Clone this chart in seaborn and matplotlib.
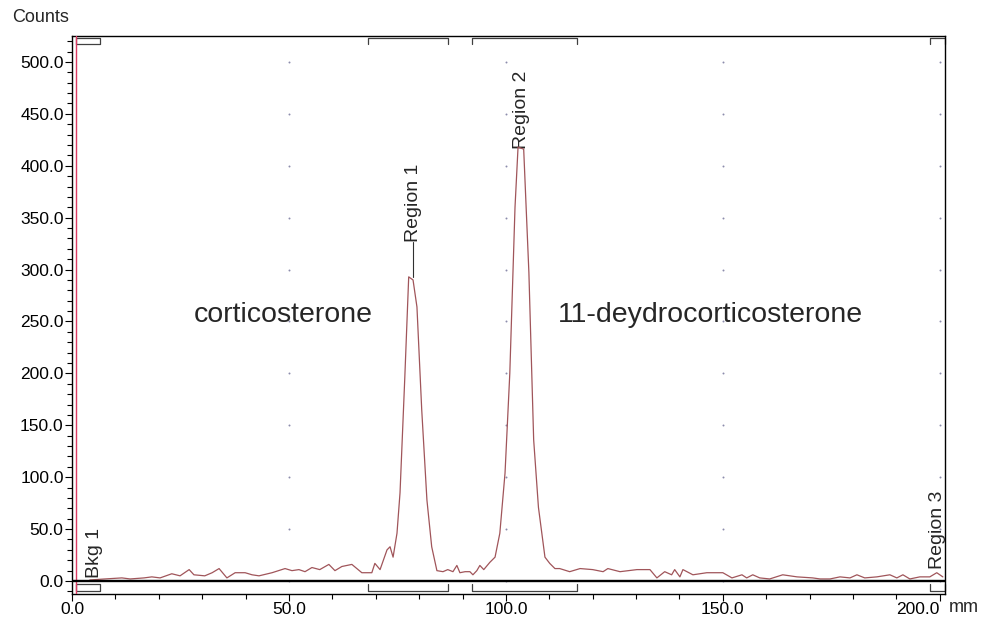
import numpy as np
import pandas as pd
import matplotlib
matplotlib.use("Agg")
import matplotlib.pyplot as plt
import seaborn as sns
from matplotlib.ticker import MultipleLocator, FormatStrFormatter

# ---- data ----
position_mm = [4.1, 7.6, 11.5, 13.4, 16.6, 18.4, 20.3, 23.0, 24.9, 27.0, 28.1, 30.6, 32.3, 33.9,
               35.7, 37.6, 39.9, 41.5, 43.1, 46.1, 49.1, 50.7, 52.3, 53.7, 55.3, 57.1, 59.2,
               60.6, 62.2, 64.5, 66.8, 69.1, 69.8, 71.0, 72.6, 73.3, 74.0, 74.9, 75.6, 76.7,
               77.6, 78.6, 79.5, 80.6, 81.8, 82.9, 84.1, 85.5, 86.6, 87.8, 88.7, 89.4, 90.6,
               91.7, 92.4, 93.3, 94.0, 94.9, 96.3, 97.5, 98.6, 99.8, 100.9, 102.1, 102.8,
               104.1, 105.3, 106.4, 107.5, 109.0, 110.1, 111.3, 112.4, 114.7, 117.1, 120.0,
               122.4, 123.5, 126.3, 130.2, 133.2, 134.8, 136.6, 138.2, 138.9, 140.1, 140.8,
               143.1, 146.3, 150.0, 152.1, 154.4, 155.5, 156.9, 158.5, 160.8, 163.8, 167.1,
               170.7, 172.4, 174.7, 177.0, 179.3, 180.9, 182.7, 185.5, 188.5, 190.1, 191.5,
               193.1, 195.4, 197.7, 199.3, 200.7]
counts = [1, 2, 3, 2, 3, 4, 3, 7, 5, 11, 6, 5, 8, 12,
          3, 8, 8, 6, 5, 8, 12, 10, 11, 9, 13, 11, 16,
          10, 14, 16, 8, 8, 17, 11, 30, 33, 23, 46, 85, 196,
          293, 290, 264, 165, 78, 33, 10, 9, 11, 9, 15, 8, 9,
          9, 6, 10, 15, 11, 18, 23, 46, 104, 200, 360, 418,
          416, 297, 136, 71, 23, 17, 12, 12, 9, 12, 11,
          9, 12, 9, 11, 11, 3, 9, 6, 11, 4, 11,
          6, 8, 8, 3, 6, 3, 6, 3, 2, 6, 4,
          3, 2, 2, 4, 3, 6, 3, 4, 6, 3, 6,
          2, 4, 4, 8, 4]

region_names = ["Bkg 1", "Region 1", "Region 2", "Region 3"]
region_start = [0.9, 68.2, 92.2, 197.7]
region_end = [6.5, 86.6, 116.4, 201.2]

x_ticks = [0, 50, 100, 150, 200]
y_ticks = [0, 50, 100, 150, 200, 250, 300, 350, 400, 450, 500]

sns.set_style("ticks")
plt.rcParams['font.family'] = ['Liberation Sans', 'DejaVu Sans']

W, H = 986, 628
fig = plt.figure(figsize=(W / 100, H / 100), dpi=100)
ax = fig.add_axes([72 / W, 34 / H, (945 - 72) / W, (594 - 36) / H])

df = pd.DataFrame({"mm": position_mm, "Counts": counts})
sns.lineplot(data=df, x="mm", y="Counts", ax=ax, color="#a0555a",
             linewidth=0.9, estimator=None, zorder=4)

ax.set_xlim(0, 201.2)
ax.set_ylim(-12.5, 525)
ax.set_xlabel("")
ax.set_ylabel("")

# grid dots
gx, gy = np.meshgrid([50, 100, 150, 200], y_ticks)
ax.scatter(gx.ravel(), gy.ravel(), s=2, color="#8c8cac", linewidths=0, zorder=1)

# zero line and left marker line
ax.axhline(0, color="black", lw=1.7, zorder=5)
ax.axvline(0.9, color="#dc3c64", lw=1.0, zorder=3)

# region brackets
bc = "#404040"
for name, a, b in zip(region_names, region_start, region_end):
    if name.startswith("Bkg"):
        ax.plot([a, a, b, b, a], [517, 523, 523, 517, 517], color=bc, lw=0.9, clip_on=False)
        ax.plot([a, a, b, b, a], [-3, -9.6, -9.6, -3, -3], color=bc, lw=0.9, clip_on=False)
    else:
        ax.plot([a, a, b, b], [517, 523, 523, 517], color=bc, lw=0.9, clip_on=False)
        ax.plot([a, a, b, b], [-3, -9.6, -9.6, -3], color=bc, lw=0.9, clip_on=False)

# region labels
lab_fs = 14
ax.plot([78.6, 78.6], [293, 327], color="#303030", lw=0.8)
ax.text(78.6, 327, "Region 1", rotation=90, ha="center", va="bottom", fontsize=lab_fs)
ax.text(103.5, 416, "Region 2", rotation=90, ha="center", va="bottom", fontsize=lab_fs)
ax.text(199.5, 12, "Region 3", rotation=90, ha="center", va="bottom", fontsize=lab_fs)
ax.text(5.3, 3, "Bkg 1", rotation=90, ha="center", va="bottom", fontsize=lab_fs)

# compound annotations
ax.text(48.6, 256, "corticosterone", ha="center", va="center", fontsize=20.5)
ax.text(147.2, 256, "11-deydrocorticosterone", ha="center", va="center", fontsize=20.5)

# ticks
ax.xaxis.set_major_locator(plt.FixedLocator(x_ticks))
ax.yaxis.set_major_locator(plt.FixedLocator(y_ticks))
ax.xaxis.set_minor_locator(MultipleLocator(10))
ax.yaxis.set_minor_locator(MultipleLocator(10))
ax.xaxis.set_major_formatter(FormatStrFormatter("%.1f"))
ax.yaxis.set_major_formatter(FormatStrFormatter("%.1f"))
ax.tick_params(which="major", direction="out", length=5, width=0.8, labelsize=12.5,
               pad=1, colors="black", bottom=True, left=True)
ax.tick_params(which="minor", direction="out", length=3.5, width=0.8,
               bottom=True, left=True, colors="black")
for s in ax.spines.values():
    s.set_visible(True)
    s.set_color("black")
    s.set_linewidth(1.0)

fig.canvas.draw()
xlabels = ax.get_xticklabels()
xlabels[-1].set_horizontalalignment("right")

fig.text(41 / W, 1 - 17 / H, "Counts", ha="center", va="center", fontsize=13)
fig.text(949 / W, 1 - 608 / H, "mm", ha="left", va="center", fontsize=13)

fig.savefig("out.png", dpi=100)
